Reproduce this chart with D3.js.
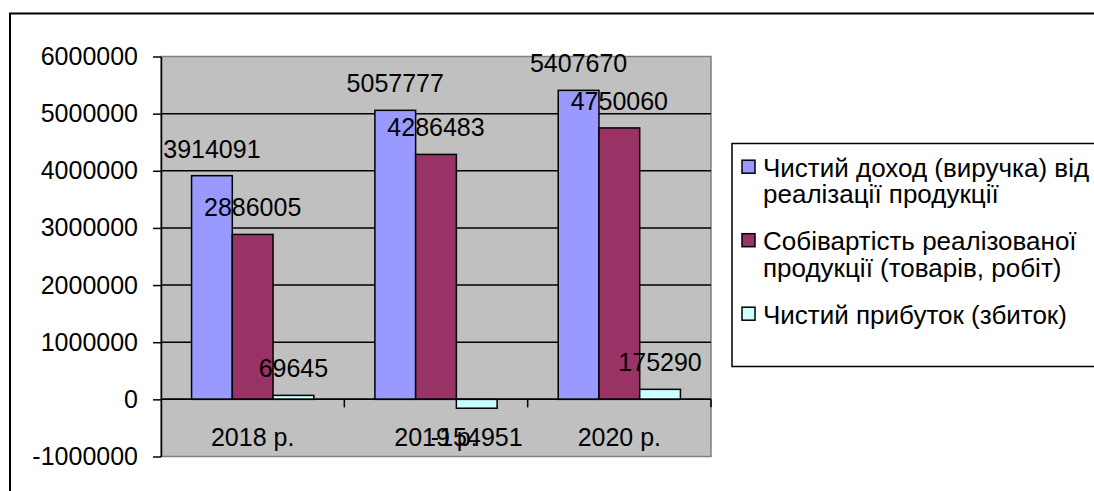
<!DOCTYPE html>
<html>
<head>
<meta charset="utf-8">
<script src="https://cdn.jsdelivr.net/npm/d3@7"></script>
<style>
    body { margin: 0; background: #fff; }
    text { font-family: "Liberation Sans", Arial, sans-serif; fill: #000; }
</style>
</head>
<body>
<div id="chart-area"></div>
<script>
// data
const categories = ["2018 р.", "2019 р.", "2020 р."];
const seriesNames = [
    "Чистий доход (виручка) від реалізації продукції",
    "Собівартість реалізованої продукції (товарів, робіт)",
    "Чистий прибуток (збиток)"
];
const legendLines = [
    ["Чистий доход (виручка) від", "реалізації продукції"],
    ["Собівартість реалізованої", "продукції (товарів, робіт)"],
    ["Чистий прибуток (збиток)"]
];
const revenue = [3914091, 5057777, 5407670];
const costs = [2886005, 4286483, 4750060];
const profit = [69645, -154951, 175290];
const yTicks = [-1000000, 0, 1000000, 2000000, 3000000, 4000000, 5000000, 6000000];
const colors = ["#9999FF", "#993366", "#CCFFFF"];

class BarChart {
    constructor(element) {
        this.parentElement = element;
        this.initVis();
    }

    initVis() {
        const vis = this;

        vis.WIDTH = 1094;
        vis.HEIGHT = 491;
        vis.PLOT = { LEFT: 161, RIGHT: 711, TOP: 56.5, BOTTOM: 456.5 };

        vis.svg = d3.select(vis.parentElement).append("svg")
            .attr("width", vis.WIDTH)
            .attr("height", vis.HEIGHT);

        // outer chart frame (runs off the picture on the right / bottom)
        vis.svg.append("rect")
            .attr("x", 10).attr("y", 13.5)
            .attr("width", 1200).attr("height", 600)
            .attr("fill", "#fff")
            .attr("stroke", "#000")
            .attr("stroke-width", 2);

        vis.x = d3.scaleBand()
            .domain(categories)
            .range([vis.PLOT.LEFT, vis.PLOT.RIGHT]);
        vis.x1 = d3.scaleBand()
            .domain(d3.range(seriesNames.length))
            .range([0, vis.x.bandwidth()])
            .paddingInner(0)
            .paddingOuter(0.75);
        vis.y = d3.scaleLinear()
            .domain([d3.min(yTicks), d3.max(yTicks)])
            .range([vis.PLOT.BOTTOM, vis.PLOT.TOP]);

        // plot area
        vis.svg.append("rect")
            .attr("x", vis.PLOT.LEFT)
            .attr("y", vis.PLOT.TOP)
            .attr("width", vis.PLOT.RIGHT - vis.PLOT.LEFT)
            .attr("height", vis.PLOT.BOTTOM - vis.PLOT.TOP)
            .attr("fill", "#C0C0C0")
            .attr("stroke", "#808080")
            .attr("stroke-width", 1.5);

        // gridlines
        vis.svg.append("g").selectAll("line")
            .data(yTicks.filter(t => t > d3.min(yTicks) && t < d3.max(yTicks)))
            .join("line")
            .attr("x1", vis.PLOT.LEFT).attr("x2", vis.PLOT.RIGHT)
            .attr("y1", d => vis.y(d)).attr("y2", d => vis.y(d))
            .attr("stroke", "#000")
            .attr("stroke-width", 1.5);

        // y axis (plain hyphen for negatives, like the original)
        const yAxis = d3.axisLeft(vis.y)
            .tickValues(yTicks)
            .tickFormat(d => String(d))
            .tickSize(8)
            .tickPadding(15)
            .tickSizeOuter(0);
        vis.svg.append("g")
            .attr("transform", `translate(${vis.PLOT.LEFT}, 0)`)
            .call(yAxis)
            .call(g => g.selectAll("line, path").attr("stroke", "#000").attr("stroke-width", 1.5))
            .call(g => g.selectAll("text").style("font-size", "25px").attr("fill", "#000"));

        vis.update();
        vis.drawLegend();
    }

    update() {
        const vis = this;
        const data = categories.map((c, i) => ({
            category: c,
            values: [revenue[i], costs[i], profit[i]]
        }));

        const groups = vis.svg.append("g").selectAll("g")
            .data(data)
            .join("g")
            .attr("transform", d => `translate(${vis.x(d.category)}, 0)`);

        groups.selectAll("rect")
            .data(d => d.values.map((v, s) => ({ v, s })))
            .join("rect")
            .attr("x", d => vis.x1(d.s))
            .attr("y", d => vis.y(Math.max(0, d.v)))
            .attr("width", vis.x1.bandwidth())
            .attr("height", d => Math.abs(vis.y(d.v) - vis.y(0)))
            .attr("fill", d => colors[d.s])
            .attr("stroke", "#000")
            .attr("stroke-width", 1.5);

        // zero line / category axis
        const y0 = vis.y(0);
        vis.svg.append("line")
            .attr("x1", vis.PLOT.LEFT).attr("x2", vis.PLOT.RIGHT)
            .attr("y1", y0).attr("y2", y0)
            .attr("stroke", "#000")
            .attr("stroke-width", 1.5);

        // tick marks between categories
        vis.svg.append("g").selectAll("line")
            .data(categories)
            .join("line")
            .attr("x1", d => vis.x(d) + vis.x.bandwidth())
            .attr("x2", d => vis.x(d) + vis.x.bandwidth())
            .attr("y1", y0).attr("y2", y0 + 8)
            .attr("stroke", "#000")
            .attr("stroke-width", 1.5);

        // category labels
        const xAxis = d3.axisBottom(vis.x).tickSize(0).tickPadding(29);
        vis.svg.append("g")
            .attr("transform", `translate(0, ${y0})`)
            .call(xAxis)
            .call(g => g.select(".domain").remove())
            .call(g => g.selectAll("text").style("font-size", "25px").attr("fill", "#000"));

        // data labels
        groups.selectAll(".label")
            .data(d => d.values.map((v, s) => ({ v, s })))
            .join("text")
            .attr("class", "label")
            .attr("x", d => vis.x1(d.s) + vis.x1.bandwidth() / 2)
            .attr("y", d => d.v >= 0 ? vis.y(d.v) - 18 : vis.y(d.v) + 38)
            .attr("text-anchor", "middle")
            .style("font-size", "25px")
            .text(d => d.v);
    }

    drawLegend() {
        const vis = this;
        const legend = vis.svg.append("g");

        legend.append("rect")
            .attr("x", 732).attr("y", 143.5)
            .attr("width", 400).attr("height", 223)
            .attr("fill", "#fff")
            .attr("stroke", "#000")
            .attr("stroke-width", 1.5);

        const LINE = 26.5;
        let baseline = 176.7;
        legendLines.forEach((lines, i) => {
            legend.append("rect")
                .attr("x", 742).attr("y", baseline - 16.5)
                .attr("width", 13).attr("height", 13)
                .attr("fill", colors[i])
                .attr("stroke", "#000")
                .attr("stroke-width", 1.5);
            lines.forEach((l, j) => {
                legend.append("text")
                    .attr("x", 763)
                    .attr("y", baseline + j * LINE)
                    .style("font-size", "26px")
                    .text(l);
            });
            baseline += lines.length * LINE + 20.5;
        });
    }
}

new BarChart("#chart-area");
</script>
</body>
</html>
